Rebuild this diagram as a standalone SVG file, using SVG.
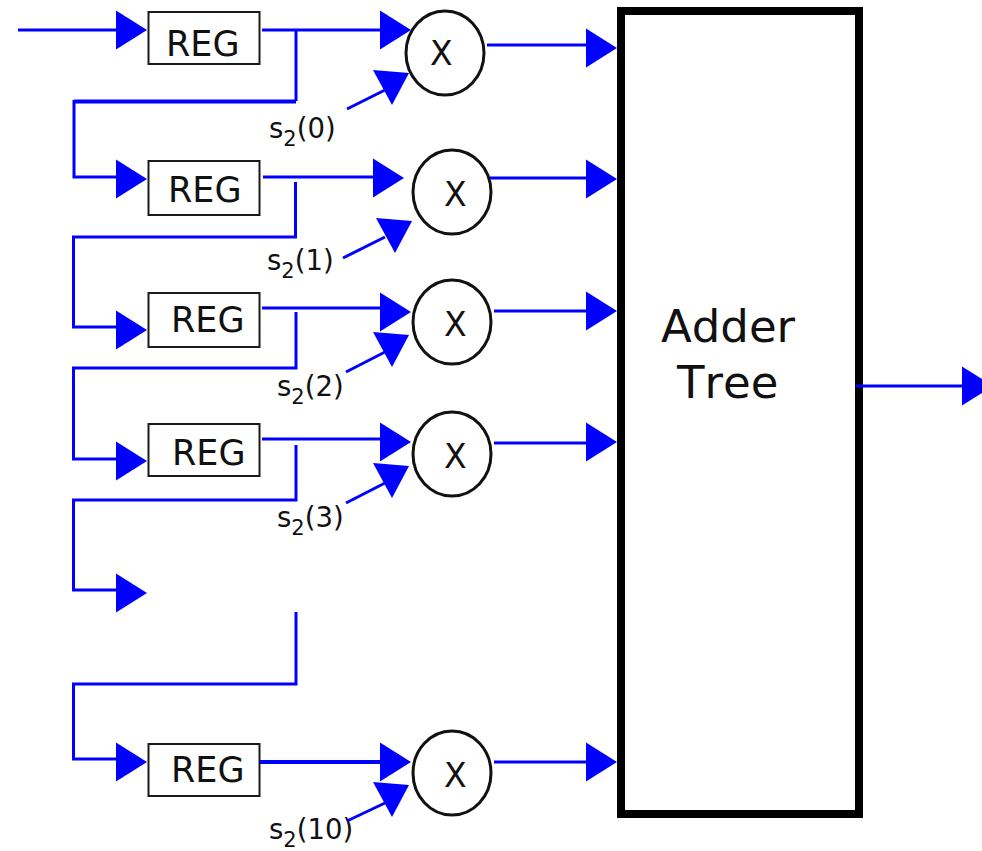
<svg xmlns="http://www.w3.org/2000/svg" width="982" height="851" viewBox="0 0 982 851">
<style>
.w{fill:none;stroke:#0000ff;stroke-width:3;stroke-linejoin:miter}
.t{stroke:#0000ff;stroke-width:4;fill:none}
.a{fill:#0000ff}
.r{fill:#fff;stroke:#1a1a1a;stroke-width:2}
.c{fill:#fff;stroke:#111;stroke-width:3}
text{font-family:"DejaVu Sans",sans-serif;fill:#111}
.reg{font-size:35px}
.x{font-size:33px}
.l{font-size:27.500px}
.s{font-size:21px}
.big{font-size:45px;font-kerning:none}
</style>
<defs>
<polygon id="h" class="a" points="-31,-19.500 0,0 -31,19.500"/>
<polygon id="d" class="a" points="-36,-3 0,0 -17,32"/>
</defs>
<rect width="982" height="851" fill="#fff"/>
<g id="reg0"><rect class="r" x="148.500" y="12" width="111" height="52"/><text class="reg" x="166" y="56">REG</text></g>
<g id="reg1"><rect class="r" x="148.500" y="161" width="111" height="54"/><text class="reg" x="168" y="202">REG</text></g>
<g id="reg2"><rect class="r" x="148.500" y="293" width="111" height="54"/><text class="reg" x="171" y="332">REG</text></g>
<g id="reg3"><rect class="r" x="148.500" y="424" width="111" height="52"/><text class="reg" x="172" y="465">REG</text></g>
<g id="reg10"><rect class="r" x="148.500" y="744" width="111" height="52"/><text class="reg" x="171" y="782">REG</text></g>
<g id="mul0"><ellipse class="c" cx="445" cy="53" rx="39" ry="42"/><text class="x" x="430" y="65">X</text></g>
<g id="mul1"><ellipse class="c" cx="452" cy="192" rx="39" ry="42"/><text class="x" x="444" y="206">X</text></g>
<g id="mul2"><ellipse class="c" cx="452" cy="322" rx="39" ry="42"/><text class="x" x="444" y="336">X</text></g>
<g id="mul3"><ellipse class="c" cx="452" cy="454" rx="39" ry="42"/><text class="x" x="444" y="468">X</text></g>
<g id="mul10"><ellipse class="c" cx="452" cy="773" rx="39" ry="42"/><text class="x" x="444" y="787">X</text></g>
<g id="adder"><rect x="621" y="11" width="238" height="803" fill="none" stroke="#000" stroke-width="8"/><text class="big" x="661" y="342">Adder</text><text class="big" x="677" y="398">Tree</text></g>
<g id="lab0"><text class="l" x="269" y="138">s<tspan class="s" dy="8">2</tspan><tspan dy="-8">(0)</tspan></text></g>
<g id="lab1"><text class="l" x="267" y="270">s<tspan class="s" dy="8">2</tspan><tspan dy="-8">(1)</tspan></text></g>
<g id="lab2"><text class="l" x="277" y="396">s<tspan class="s" dy="8">2</tspan><tspan dy="-8">(2)</tspan></text></g>
<g id="lab3"><text class="l" x="277" y="527">s<tspan class="s" dy="8">2</tspan><tspan dy="-8">(3)</tspan></text></g>
<g id="lab10"><text class="l" x="269" y="839">s<tspan class="s" dy="8">2</tspan><tspan dy="-8">(10)</tspan></text></g>
<g id="connectors">
<path class="w" d="M18 30H118"/>
<path class="w" d="M262 30H380"/>
<path class="w" d="M296 30V101"/><path class="t" d="M296 101.500H74"/><path class="w" d="M74 100V177H118"/>
<path class="w" d="M263 177H374"/>
<path class="w" d="M295.500 182V237H73.500V327H118"/>
<path class="w" d="M262 308H380"/>
<path class="w" d="M296 312V368H73.500V459H118"/>
<path class="w" d="M262 439H380"/>
<path class="w" d="M296 445V500H73.500V590H118"/>
<path class="w" d="M296 612V684H73.500V759H118"/>
<path class="t" d="M260 762H380"/>
<path class="w" d="M487 45H588"/><path class="w" d="M490 178H588"/><path class="w" d="M494 311H588"/><path class="w" d="M494 443H588"/><path class="w" d="M494 762H588"/>
<path class="w" d="M856 386H964"/>
<path class="w" d="M347 109L385 90"/><path class="w" d="M343 258L385 237"/><path class="w" d="M346 372L385 352"/><path class="w" d="M346 503L385 483"/><path class="w" d="M347 821L385 803"/>
<use href="#h" x="147" y="30"/><use href="#h" x="147" y="179"/><use href="#h" x="147" y="330"/><use href="#h" x="147" y="461"/><use href="#h" x="147" y="593"/><use href="#h" x="147" y="762"/>
<use href="#h" x="411" y="30"/><use href="#h" x="404" y="178"/><use href="#h" x="411" y="312"/><use href="#h" x="411" y="442"/><use href="#h" x="411" y="762"/>
<use href="#h" x="617" y="48"/><use href="#h" x="617" y="179"/><use href="#h" x="617" y="311"/><use href="#h" x="617" y="442"/><use href="#h" x="617" y="762"/>
<use href="#h" x="993" y="386"/>
<use href="#d" x="409" y="73"/><use href="#d" x="412" y="221"/><use href="#d" x="409" y="335"/><use href="#d" x="409" y="466"/><use href="#d" x="409" y="785"/>
</g>
</svg>
